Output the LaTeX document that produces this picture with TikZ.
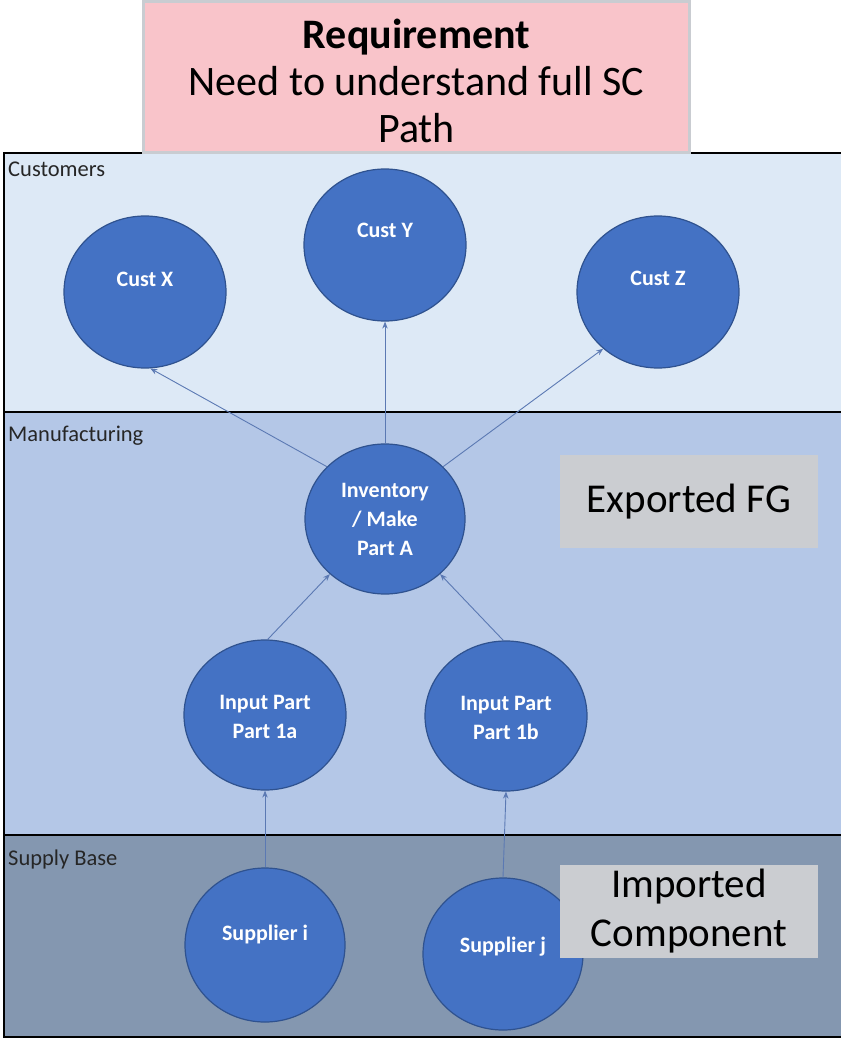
\documentclass[tikz,border=0pt]{standalone}
\usepackage{fontspec}
\setmainfont{Carlito}
\usetikzlibrary{shapes.geometric,arrows.meta}

\definecolor{pinkfill}{HTML}{F9C4CA}
\definecolor{pinkedge}{HTML}{C9CCD1}
\definecolor{custband}{HTML}{DDE9F6}
\definecolor{mfgband}{HTML}{B4C7E7}
\definecolor{supband}{HTML}{8497B0}
\definecolor{blobfill}{HTML}{4472C4}
\definecolor{blobedge}{HTML}{2F528F}
\definecolor{notefill}{HTML}{CBCDD1}
\definecolor{linkcol}{HTML}{5B79B3}

\tikzset{
  band/.style={fill=#1, draw=black, line width=2.6pt},
  bandlabel/.style={anchor=base west, inner sep=0pt, text=black!85,
    font=\fontsize{22.5}{26}\selectfont},
  blob/.style={ellipse, fill=blobfill, draw=blobedge, line width=1.2pt,
    minimum width=162pt, minimum height=152pt, inner sep=0pt},
  blobtext/.style={text=white, align=center, inner sep=0pt,
    font=\fontsize{22}{29}\selectfont\bfseries},
  note/.style={fill=notefill, inner sep=0pt, align=center,
    font=\fontsize{41}{49}\selectfont},
  link/.style={draw=linkcol, line width=0.9pt,
    -{Stealth[length=7pt,width=5.5pt]}},
}

\begin{document}
\begin{tikzpicture}[x=1pt, y=-1pt]
\useasboundingbox (0,0) rectangle (840,1040);

% swim lanes
\path[band=custband] (4,153) rectangle (850,412);
\path[band=mfgband]  (4,412) rectangle (850,835);
\path[band=supband]  (4,835) rectangle (850,1037);

\node[bandlabel] (lcust) at (8,177) {Customers};
\node[bandlabel] (lmfg)  at (8,441) {Manufacturing};
\node[bandlabel] (lsup)  at (8,865) {Supply Base};

% requirement banner
\node[fill=pinkfill, draw=pinkedge, line width=3pt, minimum width=546pt,
      minimum height=151pt, inner sep=0pt] (req) at (416.5,77) {};
\node[align=center, inner sep=0pt, font=\fontsize{42}{47}\selectfont]
  (reqtext) at (416.5,81)
  {\textbf{Requirement}\\Need to understand full SC\\Path};

% customers
\node[blob] (cx) at (145,292) {};
\node[blob] (cy) at (385,245) {};
\node[blob] (cz) at (658,292) {};
\node[blobtext] (cxt) at ([yshift=13pt]cx.center) {Cust X};
\node[blobtext] (cyt) at ([yshift=15pt]cy.center) {Cust Y};
\node[blobtext] (czt) at ([yshift=14pt]cz.center) {Cust Z};

% manufacturing
\node[blob, minimum width=160pt, minimum height=150pt] (inv) at (385,519) {};
\node[blobtext] (invt) at (inv.center) {Inventory\\/ Make\\Part A};
\node[blob, minimum height=150pt] (p1a) at (265,715) {};
\node[blob, minimum height=150pt] (p1b) at (506,716) {};
\node[blobtext] (p1at) at ([yshift=-2pt]p1a.center) {Input Part\\Part 1a};
\node[blobtext] (p1bt) at ([yshift=-2pt]p1b.center) {Input Part\\Part 1b};

% supply base
\node[blob, minimum width=160pt, minimum height=154pt] (si) at (265,945) {};
\node[blob, minimum width=160pt, minimum height=152pt] (sj) at (503,954) {};
\node[blobtext] (sit) at ([yshift=10pt]si.center) {Supplier i};
\node[blobtext] (sjt) at ([yshift=7pt]sj.center) {Supplier j};

% notes
\node[note, minimum width=258pt, minimum height=93pt] (fg) at (689,501.5) {Exported FG};
\node[note, minimum width=258pt, minimum height=93pt] (imp) at (689,911.5) {Imported\\Component};

% flows
\draw[link] (inv.138) -- (cx.-86);
\draw[link] (inv.90)  -- (cy.-90);
\draw[link] (inv.42)  -- (cz.-134);
\draw[link] (p1a.88)  -- (inv.-135);
\draw[link] (p1b.92)  -- (inv.-45);
\draw[link] (si.90)   -- (p1a.-90);
\draw[link] (sj.90)   -- (p1b.-90);
\end{tikzpicture}
\end{document}
